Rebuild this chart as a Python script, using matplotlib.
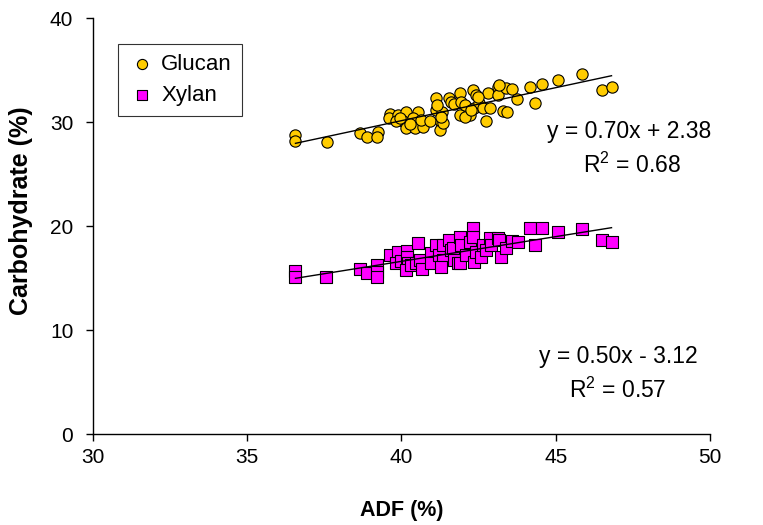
import matplotlib
matplotlib.use('Agg')
import matplotlib.pyplot as plt
import numpy as np

plt.rcParams['font.family'] = ['Liberation Sans', 'DejaVu Sans']

# ---- data ----
glucan_adf = [36.57, 36.57, 37.58, 38.65, 38.90, 39.23, 39.22,
              39.62, 39.60, 39.89, 40.16, 40.05, 40.16, 40.43, 40.54, 40.38,
              40.70, 40.65, 40.92, 39.82, 40.27, 39.95,
              41.11, 41.13, 41.29, 41.24, 41.33, 41.35, 41.17, 41.27,
              41.56, 41.62, 41.72, 41.89, 41.94, 41.89, 42.05, 42.21, 42.32,
              42.37, 42.43, 42.53, 42.64, 42.75, 42.80, 42.86, 43.13, 43.13,
              43.29, 43.40, 42.05, 42.27, 42.48, 43.16, 43.43, 43.59, 43.74,
              44.17, 44.34, 44.56, 45.07, 45.84, 46.50, 46.81]
glucan_val = [28.75, 28.20, 28.11, 28.91, 28.59, 29.07, 28.59,
              30.74, 30.36, 30.67, 30.93, 30.10, 29.45, 29.45, 30.93, 30.36,
              29.55, 30.19, 30.10, 30.10, 29.81, 30.38,
              32.34, 31.15, 30.03, 29.23, 30.93, 29.87, 31.63, 30.48,
              32.34, 31.95, 31.70, 32.76, 31.89, 30.67, 31.63, 30.67, 33.08,
              31.37, 32.60, 31.80, 31.32, 30.10, 32.76, 31.32, 33.39, 32.60,
              31.06, 33.24, 30.51, 31.15, 32.43, 33.56, 30.93, 33.17, 32.21,
              33.39, 31.80, 33.62, 34.04, 34.62, 33.08, 33.34]

xylan_adf = [36.57, 36.57, 37.57, 38.65, 38.89, 39.22, 39.22, 39.22,
             39.62, 39.89, 39.84, 40.00, 40.18, 40.18, 40.21, 40.16, 40.32,
             40.54, 40.49, 40.59, 40.68, 40.97, 40.97, 41.13, 41.21, 41.35,
             41.29, 41.35,
             41.56, 41.62, 41.67, 41.72, 41.83, 41.89, 41.94, 41.89, 42.10,
             42.21, 42.32, 42.32, 42.37, 42.43, 42.59, 42.64, 42.75, 42.86,
             42.91, 43.13, 43.18, 43.24, 43.40, 43.59, 43.77,
             44.17, 44.34, 44.56, 45.07, 45.84, 46.50, 46.81]
xylan_val = [15.65, 15.10, 15.08, 15.87, 15.53, 16.25, 15.61, 15.13,
             17.26, 17.48, 16.41, 16.63, 17.60, 17.05, 16.41, 15.77, 16.25,
             18.34, 16.41, 16.73, 15.87, 17.38, 16.41, 18.17, 17.21, 16.73,
             16.06, 18.17,
             18.70, 17.69, 17.86, 16.73, 16.41, 18.97, 18.17, 16.41, 17.21,
             18.49, 19.78, 18.97, 16.57, 17.53, 17.05, 18.17, 17.69, 18.89,
             18.17, 18.82, 18.65, 17.05, 17.86, 18.56, 18.43,
             19.78, 18.17, 19.78, 19.45, 19.68, 18.65, 18.49]

trend_adf = [36.57, 46.81]
glucan_trend = [27.95, 34.45]
xylan_trend = [14.97, 19.84]

glucan_eq = 'y = 0.70x + 2.38'
glucan_r2 = '$\\mathregular{R^2}$ = 0.68'
xylan_eq = 'y = 0.50x - 3.12'
xylan_r2 = '$\\mathregular{R^2}$ = 0.57'

fig = plt.figure(figsize=(7.63, 5.25), dpi=100)
ax = fig.add_axes([0.1215, 0.1733, 0.809, 0.7924])

ax.scatter(glucan_adf, glucan_val, s=66, marker='o', facecolor='#FFCC00',
           edgecolor='black', linewidth=0.8, zorder=3, label='Glucan')
ax.scatter(xylan_adf, xylan_val, s=72, marker='s', facecolor='#FF00FF',
           edgecolor='black', linewidth=0.8, zorder=3, label='Xylan')
ax.plot(trend_adf, glucan_trend, color='black', lw=1, zorder=4)
ax.plot(trend_adf, xylan_trend, color='black', lw=1, zorder=4)

ax.set_xlim(30, 50)
ax.set_ylim(0, 40)
ax.set_xticks([30, 35, 40, 45, 50])
ax.set_yticks([0, 10, 20, 30, 40])
for s in ['top', 'right']:
    ax.spines[s].set_visible(False)
for s in ['left', 'bottom']:
    ax.spines[s].set_linewidth(1)
ax.tick_params(direction='out', length=5, width=1, labelsize=15)
ax.tick_params(axis='x', pad=5)
ax.tick_params(axis='y', pad=9)

ax.set_xlabel('ADF (%)', fontsize=15.5, fontweight='bold', labelpad=24)
ax.set_ylabel('Carbohydrate (%)', fontsize=18, fontweight='bold')
ax.yaxis.set_label_coords(-0.096, 0.536)

ax.text(47.39, 29.07, glucan_eq, fontsize=16.5, ha='center', va='center')
ax.text(47.46, 25.87, glucan_r2, fontsize=16.5, ha='center', va='center')
ax.text(47.02, 7.43, xylan_eq, fontsize=16.5, ha='center', va='center')
ax.text(47.0, 4.23, xylan_r2, fontsize=16.5, ha='center', va='center')

leg = ax.legend(loc='upper left', bbox_to_anchor=(0.041, 0.9375), fontsize=16,
                frameon=True, fancybox=False, edgecolor='black',
                handletextpad=0.2, borderpad=0.45, labelspacing=0.45,
                handlelength=1.3, borderaxespad=0, markerscale=0.9)
leg.get_frame().set_linewidth(0.8)

fig.savefig('out.png', dpi=100)
